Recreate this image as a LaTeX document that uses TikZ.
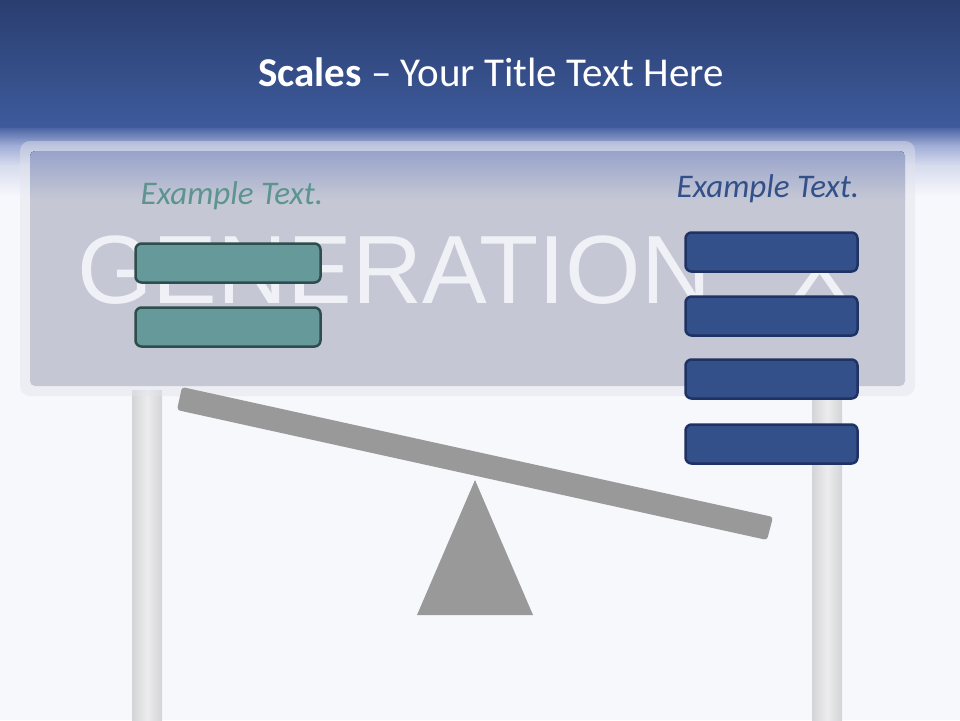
\documentclass[tikz,border=0pt]{standalone}
\usepackage{fontspec}
\setmainfont{Carlito}
\newfontfamily\arialf{Liberation Sans}
\definecolor{bgc}{HTML}{F7F8FC}
\definecolor{hdtop}{HTML}{2A3E70}
\definecolor{hdbot}{HTML}{3E5B9C}
\definecolor{fadeA}{HTML}{4C66A5}
\definecolor{fadeB}{HTML}{A0ACD5}
\definecolor{fadeC}{HTML}{D6DBEE}
\definecolor{panelc}{HTML}{C5C8D4}
\definecolor{paneltop}{HTML}{98A3CB}
\definecolor{framec}{HTML}{E2E4EC}
\definecolor{pilc}{HTML}{D3D4D7}
\definecolor{pilm}{HTML}{ECECEE}
\definecolor{genc}{HTML}{EFF1F6}
\definecolor{tealfill}{HTML}{669999}
\definecolor{tealline}{HTML}{2E4D4D}
\definecolor{teallbl}{HTML}{5E9490}
\definecolor{bluefill}{HTML}{34508A}
\definecolor{blueline}{HTML}{1F3264}
\definecolor{bluelbl}{HTML}{34508A}
\definecolor{beamc}{HTML}{999999}
\begin{document}
\begin{tikzpicture}[x=1pt,y=-1pt,
  tealbox/.style={draw=tealline, fill=tealfill, line width=2.5pt, rounded corners=6pt,
    minimum width=185pt, minimum height=39pt, inner sep=0pt},
  bluebox/.style={draw=blueline, fill=bluefill, line width=2.5pt, rounded corners=6pt,
    minimum width=172pt, minimum height=39pt, inner sep=0pt},
  lbl/.style={anchor=base, inner sep=0pt, font=\fontsize{33}{39}\selectfont\itshape},
  pillar/.style={left color=pilc, right color=pilc, middle color=pilm},
  beam/.style={fill=beamc}]
\useasboundingbox (0,0) rectangle (960,720);
% background
\fill[bgc] (0,0) rectangle (960,720);
% header and fade
\fill[top color=hdtop, bottom color=hdbot] (0,0) rectangle (960,128.5);
\fill[top color=fadeA, bottom color=fadeB] (0,128) rectangle (960,145.5);
\fill[top color=fadeB, bottom color=fadeC] (0,145) rectangle (960,165.5);
\fill[top color=fadeC, bottom color=bgc] (0,165) rectangle (960,196);
% pillars
\fill[pillar] (132,390) rectangle (162,720);
\fill[pillar] (812,390) rectangle (842,720);
% sign frame and panel
\fill[framec, opacity=0.45, rounded corners=10pt] (20,141) rectangle (915,396);
\fill[panelc, rounded corners=5pt] (30,151) rectangle (905,386);
\begin{scope}
  \clip[rounded corners=5pt] (30,151) rectangle (905,386);
  \fill[top color=paneltop, bottom color=panelc] (30,151) rectangle (905,200);
\end{scope}
\node[anchor=base west, inner sep=0pt, text=genc, font=\arialf\fontsize{97}{100}\selectfont] (gen) at (77,303) {GENERATION\hspace{76pt}X};
% labels
\node[lbl, text=teallbl] (lblL) at (232,204) {Example Text.};
\node[lbl, text=bluelbl] (lblR) at (768,197) {Example Text.};
% boxes
\node[tealbox] (tb1) at (228,263) {};
\node[tealbox] (tb2) at (228,327) {};
\node[bluebox] (bb1) at (771.5,252) {};
\node[bluebox] (bb2) at (771.5,316) {};
\node[bluebox] (bb3) at (771.5,379) {};
\node[bluebox] (bb4) at (771.5,444) {};
% beam and fulcrum
\fill[beam, rounded corners=3pt] (182,387) -- (773,517) -- (767,540) -- (177,410) -- cycle;
\fill[beam] (475,480) -- (533,615) -- (417,615) -- cycle;
% title
\node[anchor=base, inner sep=0pt, text=white, font=\fontsize{41}{48}\selectfont] (title) at (491,86) {\textbf{Scales} – Your Title Text Here};
\end{tikzpicture}
\end{document}
